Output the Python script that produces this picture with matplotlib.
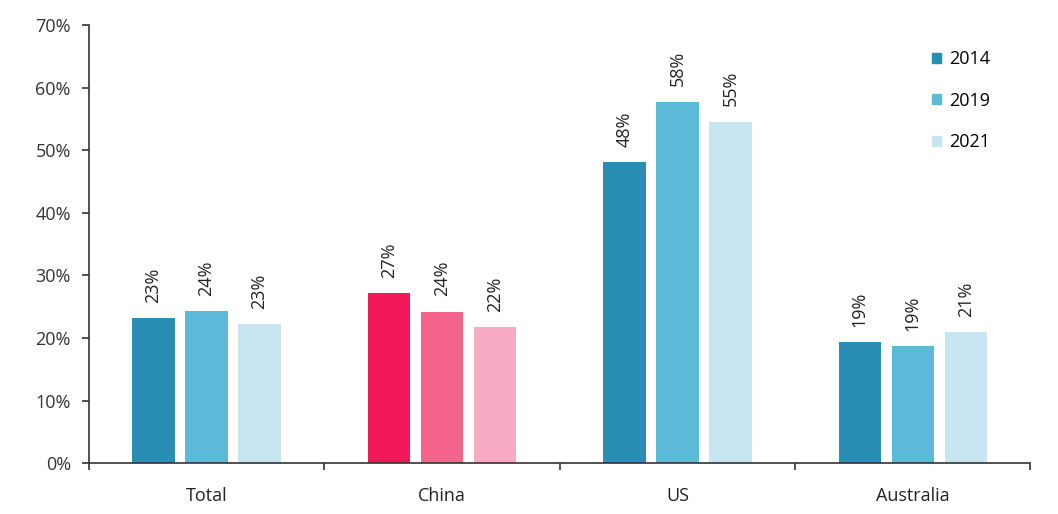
import matplotlib.pyplot as plt
import numpy as np
from matplotlib.patches import Patch

plt.rcParams["font.family"] = ["Open Sans", "DejaVu Sans"]

categories = ["Total", "China", "US", "Australia"]
years = ["2014", "2019", "2021"]
values_2014 = [23.2, 27.2, 48.1, 19.3]
values_2019 = [24.3, 24.2, 57.8, 18.7]
values_2021 = [22.2, 21.7, 54.6, 20.9]
labels_2014 = ["23%", "27%", "48%", "19%"]
labels_2019 = ["24%", "24%", "58%", "19%"]
labels_2021 = ["23%", "22%", "55%", "21%"]

blue = ["#2a8db3", "#5db9d8", "#c8e6f1"]
pink = ["#f2195a", "#f5648c", "#f9abc3"]


def main():
    fig = plt.figure(figsize=(10.58, 5.14), dpi=100)
    ax = fig.add_axes([0.084, 0.099, 0.89, 0.852])

    x = np.arange(len(categories))
    width = 0.18
    step = 0.225
    series = [values_2014, values_2019, values_2021]
    labels = [labels_2014, labels_2019, labels_2021]
    for i, (vals, labs) in enumerate(zip(series, labels)):
        colors = [pink[i] if c == "China" else blue[i] for c in categories]
        bars = ax.bar(x + (i - 1) * step, vals, width, color=colors)
        ax.bar_label(bars, labels=labs, rotation=90, padding=11,
                     fontsize=13, color="#222222")

    ax.set_xlim(-0.5, len(categories) - 0.5)
    ax.set_ylim(0, 70)
    ax.set_yticks(range(0, 71, 10))
    ax.set_yticklabels([f"{v}%" for v in range(0, 71, 10)], fontsize=13,
                       color="#333333")
    ax.set_xticks(x)
    ax.set_xticklabels(categories, fontsize=13, color="#222222")
    ax.tick_params(axis="x", length=0, pad=17)
    ax.set_xticks(np.arange(-0.5, len(categories)), minor=True)
    ax.tick_params(axis="x", which="minor", length=5, width=1.2,
                   color="#333333")
    ax.tick_params(axis="y", length=5, width=1.2, color="#333333", pad=8)

    for side in ["top", "right"]:
        ax.spines[side].set_visible(False)
    for side in ["left", "bottom"]:
        ax.spines[side].set_color("#333333")
        ax.spines[side].set_linewidth(1.2)

    handles = [Patch(color=blue[i], label=years[i]) for i in range(3)]
    ax.legend(handles=handles, loc="upper right", bbox_to_anchor=(0.975, 0.98),
              frameon=False, fontsize=13, handlelength=0.5, handleheight=0.5,
              handletextpad=0.5, labelspacing=1.3)

    fig.savefig("out.png", dpi=100)


if __name__ == "__main__":
    main()
